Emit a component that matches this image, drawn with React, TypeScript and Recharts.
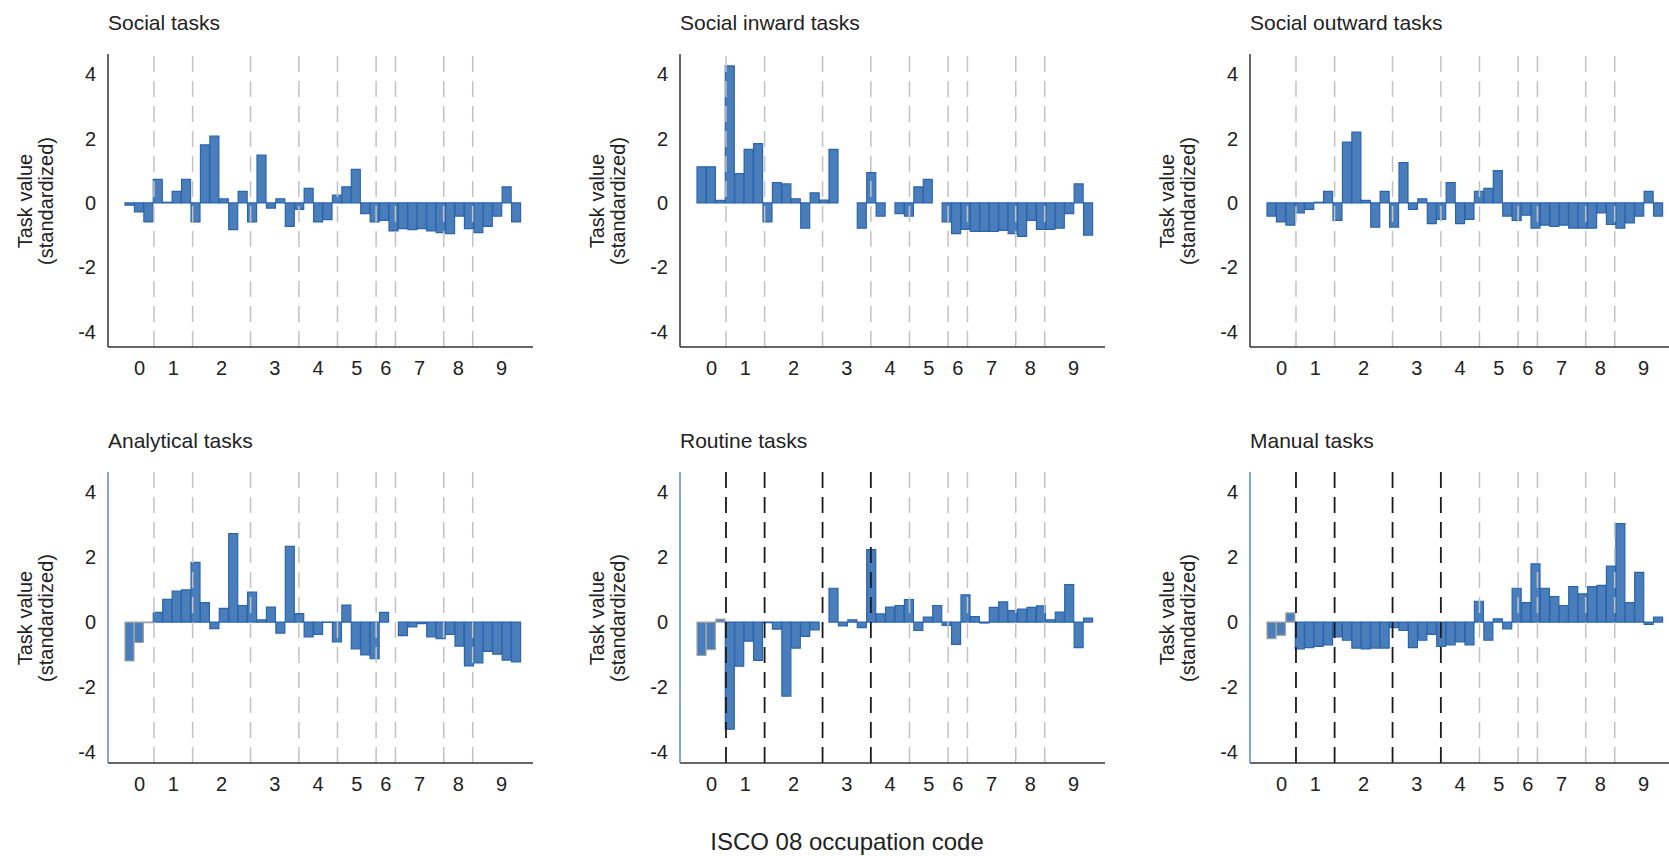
import React from 'react';
import { BarChart, Bar, XAxis, YAxis, ReferenceLine, Cell } from 'recharts';

// ISCO-08 two-digit codes, grouped by major group
const iscoCodes = [
  '01', '02', '03',
  '11', '12', '13', '14',
  '21', '22', '23', '24', '25', '26',
  '31', '32', '33', '34', '35',
  '41', '42', '43', '44',
  '51', '52', '53', '54',
  '61', '62',
  '71', '72', '73', '74', '75',
  '81', '82', '83',
  '91', '92', '93', '94', '95', '96',
];
const groupLabels = ['0', '1', '2', '3', '4', '5', '6', '7', '8', '9'];
const groupSizes = [3, 4, 6, 5, 4, 4, 2, 5, 3, 6];
const yTicks = [-4, -2, 0, 2, 4];

const socialTasks = [
  -0.07, -0.28, -0.59,
  0.73, 0.02, 0.36, 0.73,
  -0.59, 1.8, 2.07, 0.13, -0.83, 0.36,
  -0.59, 1.48, -0.16, 0.13, -0.73,
  -0.2, 0.45, -0.59, -0.52,
  0.24, 0.5, 1.04, -0.33,
  -0.59, -0.54,
  -0.87, -0.8, -0.83, -0.8, -0.87,
  -0.92, -0.95, -0.41,
  -0.8, -0.92, -0.73, -0.41, 0.5, -0.59,
];
const socialInwardTasks = [
  1.12, 1.12, 0.08,
  4.25, 0.91, 1.66, 1.84,
  -0.59, 0.63, 0.59, 0.13, -0.78, 0.31,
  0.09, 1.66, null, null, -0.78,
  0.94, -0.41, null, -0.33,
  -0.41, 0.5, 0.73, null,
  -0.59, -0.95,
  -0.82, -0.88, -0.88, -0.88, -0.85,
  -0.95, -1.04, -0.54,
  -0.82, -0.82, -0.78, -0.33, 0.59, -1.0,
];
const socialOutwardTasks = [
  -0.41, -0.59, -0.69,
  -0.31, -0.2, 0.02, 0.36,
  -0.54, 1.89, 2.2, 0.08, -0.75, 0.36,
  -0.75, 1.25, -0.2, 0.13, -0.64,
  -0.51, 0.63, -0.64, -0.51,
  0.36, 0.45, 1.0, -0.41,
  -0.54, -0.38,
  -0.78, -0.69, -0.73, -0.69, -0.78,
  -0.78, -0.78, -0.31,
  -0.67, -0.78, -0.62, -0.41, 0.36, -0.41,
];
const analyticalTasks = [
  -1.2, -0.63, -0.02,
  0.3, 0.7, 0.95, 0.99,
  1.84, 0.6, -0.2, 0.42, 2.72, 0.51,
  0.92, 0.07, 0.46, -0.34, 2.33,
  0.26, -0.46, -0.38, -0.01,
  -0.61, 0.52, -0.83, -1.01,
  -1.13, 0.3,
  null, -0.42, -0.15, -0.05, -0.46,
  -0.51, -0.38, -0.74,
  -1.35, -1.26, -0.9, -0.99, -1.17, -1.23,
];
const routineTasks = [
  -1.03, -0.85, 0.09,
  -3.3, -1.36, -0.59, -1.18,
  -0.02, -0.22, -2.28, -0.8, -0.44, -0.24,
  null, 1.04, -0.12, 0.07, -0.17,
  2.23, 0.25, 0.46, 0.51,
  0.69, -0.26, 0.15, 0.51,
  -0.1, -0.69,
  0.84, 0.17, -0.03, 0.45, 0.62,
  0.35, 0.4, 0.45,
  0.5, 0.07, 0.31, 1.15, -0.79, 0.12,
];
const manualTasks = [
  -0.51, -0.41, 0.28,
  -0.83, -0.79, -0.75, -0.7,
  -0.46, -0.56, -0.8, -0.83, -0.8, -0.8,
  -0.17, -0.26, -0.79, -0.56, -0.38,
  -0.75, -0.7, -0.61, -0.7,
  0.64, -0.56, 0.1, -0.21,
  1.04, 0.6,
  1.79, 1.04, 0.78, 0.51, 1.09,
  0.87, 1.09, 1.13,
  1.72, 3.03, 0.6, 1.53, -0.07, 0.15,
];

// group borders and centres in bar units
const boundaries: number[] = [];
const centers: number[] = [];
let acc = 0;
groupSizes.forEach((n, i) => {
  centers.push(acc + n / 2);
  acc += n;
  if (i < groupSizes.length - 1) boundaries.push(acc);
});
const nBars = acc;

const Y_AXIS_W = 108;
const PLOT_W = 425;
const CHART_W = Y_AXIS_W + PLOT_W + 40;
const PAD = { left: 17, right: 12 };
const BAR_FILL = '#4a7ebb';
const BAR_STROKE = '#2a64ad';
const TEXT = '#222';

const TaskPanel = ({ title, values, left, top, height, yDomain, yAxisColor, blackDividers, greyFirst }) => {
  const data = iscoCodes.map((code, i) => ({ code, value: values[i] }));
  const plotH = height - 54 - 13 - 40;
  const axisX = left + Y_AXIS_W;
  return (
    <>
      <div style={{ position: 'absolute', left: axisX, top: top + 12, fontSize: 21, lineHeight: 1, color: TEXT, whiteSpace: 'nowrap' }}>
        {title}
      </div>
      <div
        style={{
          position: 'absolute', left: axisX - 72, top: top + 54 + plotH / 2,
          transform: 'translate(-50%, -50%) rotate(-90deg)',
          fontSize: 20, lineHeight: '21px', textAlign: 'center', whiteSpace: 'nowrap', color: TEXT,
        }}
      >
        Task value<br />(standardized)
      </div>
      <div style={{ position: 'absolute', left, top }}>
        <BarChart width={CHART_W} height={height} data={data} margin={{ top: 54, right: 40, bottom: 13, left: 0 }} barCategoryGap={0} barGap={0}>
          <XAxis xAxisId="cat" dataKey="code" hide height={0} padding={PAD} />
          <XAxis
            xAxisId="num" type="number" domain={[0, nBars]} allowDataOverflow
            ticks={centers} interval={0} tickFormatter={(v) => groupLabels[centers.indexOf(v)]}
            padding={PAD} height={40} tickLine={false} tickMargin={8}
            axisLine={{ stroke: '#333', strokeWidth: 1.5 }} tick={{ fontSize: 20, fill: TEXT }}
          />
          <YAxis
            width={Y_AXIS_W} domain={yDomain} allowDataOverflow ticks={yTicks} interval={0}
            tickLine={false} tickMargin={6}
            axisLine={{ stroke: yAxisColor, strokeWidth: 1.5 }} tick={{ fontSize: 20, fill: TEXT }}
          />
          {boundaries.map((b, i) => (
            <ReferenceLine
              key={b} xAxisId="num" x={b}
              stroke={i < blackDividers ? '#1a1a1a' : '#c2c2c2'}
              strokeWidth={i < blackDividers ? 1.8 : 1.5}
              strokeDasharray="16 9"
            />
          ))}
          <Bar xAxisId="cat" dataKey="value" fill={BAR_FILL} stroke={BAR_STROKE} strokeWidth={1.2} isAnimationActive={false}>
            {data.map((d, i) => (
              <Cell key={d.code} stroke={greyFirst && i < groupSizes[0] ? '#a3a3a3' : BAR_STROKE} />
            ))}
          </Bar>
        </BarChart>
      </div>
    </>
  );
};

const topRow = { top: 0, height: 400, yDomain: [-4.47, 4.62], yAxisColor: '#333' };
const bottomRow = { top: 418, height: 398, yDomain: [-4.34, 4.62], yAxisColor: '#5a8ac4' };
const colLeft = [0, 572, 1142];

export default function App() {
  return (
    <div
      style={{
        position: 'relative', width: 1669, height: 856, overflow: 'hidden', background: '#fff',
        fontFamily: '"Liberation Sans", Arial, sans-serif',
      }}
    >
      <style>{'body { margin: 0; }'}</style>
      <TaskPanel title="Social tasks" values={socialTasks} left={colLeft[0]} {...topRow} blackDividers={0} greyFirst={false} />
      <TaskPanel title="Social inward tasks" values={socialInwardTasks} left={colLeft[1]} {...topRow} blackDividers={0} greyFirst={false} />
      <TaskPanel title="Social outward tasks" values={socialOutwardTasks} left={colLeft[2]} {...topRow} blackDividers={0} greyFirst={false} />
      <TaskPanel title="Analytical tasks" values={analyticalTasks} left={colLeft[0]} {...bottomRow} blackDividers={0} greyFirst />
      <TaskPanel title="Routine tasks" values={routineTasks} left={colLeft[1]} {...bottomRow} blackDividers={4} greyFirst />
      <TaskPanel title="Manual tasks" values={manualTasks} left={colLeft[2]} {...bottomRow} blackDividers={4} greyFirst />
      <div style={{ position: 'absolute', left: 547, top: 830, width: 600, textAlign: 'center', fontSize: 24, lineHeight: 1, color: TEXT }}>
        ISCO 08 occupation code
      </div>
    </div>
  );
}
